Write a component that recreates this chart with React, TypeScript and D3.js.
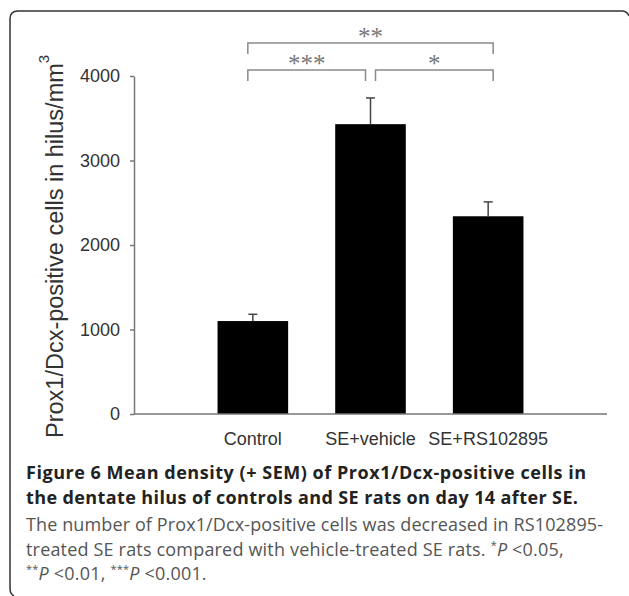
import React, { useEffect, useRef } from 'react';
import * as d3 from 'd3';

const groups = ['Control', 'SE+vehicle', 'SE+RS102895'];
const means = [1100, 3430, 2340];
const sems = [80, 310, 170];
const yTicks = [0, 1000, 2000, 3000, 4000];
const comparisons = [
  { from: 0, to: 1, level: 0, label: '***' },
  { from: 1, to: 2, level: 0, label: '*' },
  { from: 0, to: 2, level: 1, label: '**' },
];

const W = 629;
const H = 596;

const App = () => {
  const ref = useRef<SVGSVGElement | null>(null);

  useEffect(() => {
    const svg = d3.select(ref.current);
    svg.selectAll('*').remove();

    // frame of the figure panel
    svg.append('path')
      .attr('d', 'M14,596 Q10,594 10,588 L10,19 Q10,11 18,11 L622,11 Q627,11 629,16')
      .attr('fill', 'none')
      .attr('stroke', '#333')
      .attr('stroke-width', 1.5);

    const y = d3.scaleLinear().domain([0, 4000]).range([414, 76]);
    const x = d3.scaleBand().domain(groups).range([134, 607]).paddingInner(0.4).paddingOuter(0.71);
    const cx = (i: number) => (x(groups[i]) as number) + x.bandwidth() / 2;

    const yAxis = svg.append('g')
      .attr('transform', 'translate(134,0)')
      .call(d3.axisLeft(y).tickValues(yTicks).tickSize(4).tickSizeOuter(0).tickPadding(10).tickFormat(d3.format('d')));
    yAxis.select('.domain').attr('stroke', '#777').attr('stroke-width', 1.5);
    yAxis.selectAll('.tick line').attr('stroke', '#777').attr('stroke-width', 1.5);
    yAxis.selectAll('.tick text')
      .attr('fill', '#333')
      .style('font-family', 'Liberation Sans, Arial, sans-serif')
      .style('font-size', '18px');

    // bars
    svg.selectAll('rect.bar')
      .data(means)
      .enter()
      .append('rect')
      .attr('class', 'bar')
      .attr('x', (d, i) => x(groups[i]) as number)
      .attr('width', x.bandwidth())
      .attr('y', d => y(d))
      .attr('height', d => y(0) - y(d))
      .attr('fill', '#000');

    // upper error bars
    const err = svg.selectAll('g.err')
      .data(means)
      .enter()
      .append('g')
      .attr('class', 'err')
      .attr('stroke', '#444')
      .attr('stroke-width', 1.5);
    err.append('line')
      .attr('x1', (d, i) => cx(i)).attr('x2', (d, i) => cx(i))
      .attr('y1', d => y(d)).attr('y2', (d, i) => y(d + sems[i]));
    err.append('line')
      .attr('x1', (d, i) => cx(i) - 4.5).attr('x2', (d, i) => cx(i) + 4.5)
      .attr('y1', (d, i) => y(d + sems[i])).attr('y2', (d, i) => y(d + sems[i]));

    // x axis line
    svg.append('line')
      .attr('x1', 134).attr('x2', 607)
      .attr('y1', y(0)).attr('y2', y(0))
      .attr('stroke', '#777').attr('stroke-width', 1.5);

    svg.selectAll('text.xlab')
      .data(groups)
      .enter()
      .append('text')
      .attr('class', 'xlab')
      .attr('x', (d, i) => cx(i))
      .attr('y', 445)
      .attr('text-anchor', 'middle')
      .attr('fill', '#333')
      .style('font-family', 'Liberation Sans, Arial, sans-serif')
      .style('font-size', '18px')
      .text(d => d);

    // y title
    const title = svg.append('text')
      .attr('transform', 'translate(63,438) rotate(-90)')
      .attr('fill', '#333')
      .style('font-family', 'Liberation Sans, Arial, sans-serif')
      .style('font-size', '23.5px');
    title.append('tspan').text('Prox1/Dcx-positive cells in hilus/mm');
    title.append('tspan').attr('dy', -14).style('font-size', '15px').text('3');

    // significance brackets
    const levelY = [70, 43];
    comparisons.forEach(c => {
      const x1 = cx(c.from) + (c.from === 0 ? -5 : 5);
      const x2 = cx(c.to) + 5 * (c.to === 1 ? -1 : 1);
      const by = levelY[c.level];
      svg.append('path')
        .attr('d', `M${x1},${by + 11} L${x1},${by} L${x2},${by} L${x2},${by + 11}`)
        .attr('fill', 'none')
        .attr('stroke', '#8a8a8a')
        .attr('stroke-width', 1.5);
      svg.append('text')
        .attr('x', (x1 + x2) / 2)
        .attr('y', by + 2)
        .attr('text-anchor', 'middle')
        .attr('fill', '#777')
        .style('font-family', 'Liberation Serif, serif')
        .style('font-size', '25px')
        .text(c.label);
    });

    // caption
    const cap = svg.append('g')
      .style('font-family', 'Open Sans, Noto Sans, sans-serif')
      .style('font-size', '18px');
    cap.append('text').attr('x', 26).attr('y', 479).attr('fill', '#222').attr('font-weight', 700)
      .attr('textLength', 560).attr('lengthAdjust', 'spacing')
      .text('Figure 6 Mean density (+ SEM) of Prox1/Dcx-positive cells in');
    cap.append('text').attr('x', 26).attr('y', 504).attr('fill', '#222').attr('font-weight', 700)
      .attr('textLength', 552).attr('lengthAdjust', 'spacing')
      .text('the dentate hilus of controls and SE rats on day 14 after SE.');
    cap.append('text').attr('x', 26).attr('y', 531).attr('fill', '#555')
      .attr('textLength', 577).attr('lengthAdjust', 'spacing')
      .text('The number of Prox1/Dcx-positive cells was decreased in RS102895-');
    const l4 = cap.append('text').attr('x', 26).attr('y', 556).attr('fill', '#555').style('letter-spacing', '0.18px');
    l4.append('tspan').text('treated SE rats compared with vehicle-treated SE rats. ');
    l4.append('tspan').attr('dy', -7).style('font-size', '11px').text('*');
    l4.append('tspan').attr('dy', 7).attr('font-style', 'italic').text('P');
    l4.append('tspan').text(' <0.05,');
    const l5 = cap.append('text').attr('x', 26).attr('y', 580).attr('fill', '#555').style('letter-spacing', '0.2px');
    l5.append('tspan').attr('dy', -7).style('font-size', '11px').text('**');
    l5.append('tspan').attr('dy', 7).attr('font-style', 'italic').text('P');
    l5.append('tspan').text(' <0.01, ');
    l5.append('tspan').attr('dy', -7).style('font-size', '11px').text('***');
    l5.append('tspan').attr('dy', 7).attr('font-style', 'italic').text('P');
    l5.append('tspan').text(' <0.001.');
  }, []);

  return (
    <svg ref={ref} width={W} height={H} style={{ position: 'absolute', left: 0, top: 0, background: '#fff' }} />
  );
};

export default App;
